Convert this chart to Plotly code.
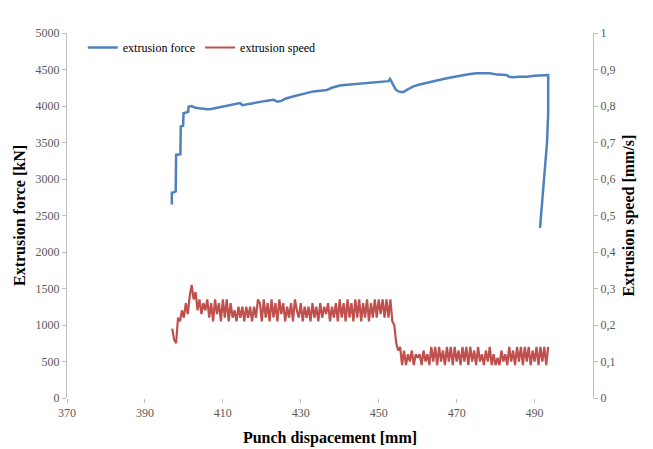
import numpy as np
import plotly.graph_objects as go

# Extrusion force (blue) — punch displacement [mm] and force [kN]
force_x = [396.9, 396.9, 397.1, 397.9, 398.0, 399.1, 399.2, 399.8, 399.9, 401.1, 401.2, 402.0,
           403.0, 404.0, 405.0, 406.0, 407.0, 408.0, 409.0, 410.0, 411.0, 412.0, 413.0, 414.4,
           415.0, 416.0, 417.0, 418.0, 419.6, 421.0, 423.0, 424.0, 425.0, 426.0, 428.0, 430.7,
           432.0, 433.2, 435.0, 436.7, 438.0, 440.0, 442.0, 445.2, 447.0, 449.0, 451.0, 452.5,
           452.9, 453.7, 454.3, 455.0, 456.3, 457.5, 458.9, 460.5, 462.3, 464.5, 466.6, 468.5,
           470.8, 473.0, 475.1, 478.5, 480.5, 482.8, 483.5, 484.5, 486.0, 487.9, 490.0, 492.0,
           493.5, 493.5, 493.2, 491.4]
force_y = [2650, 2810, 2810, 2830, 3330, 3340, 3720, 3730, 3900, 3920, 3990, 4000,
           3975, 3965, 3960, 3955, 3960, 3970, 3980, 3990, 4000, 4010, 4020, 4040,
           4010, 4020, 4040, 4050, 4060, 4070, 4085, 4060, 4070, 4100, 4130, 4165,
           4180, 4200, 4210, 4220, 4250, 4280, 4290, 4305, 4310, 4320, 4330, 4340,
           4370, 4290, 4230, 4200, 4190, 4230, 4270, 4295, 4320, 4345, 4370, 4390,
           4415, 4435, 4447, 4447, 4430, 4425, 4400, 4393, 4400, 4402, 4415, 4420,
           4425, 3900, 3500, 2330]

# Extrusion speed (red) — sampled every 0.5 mm from 397 to 493.5 mm
speed_x = np.arange(397.0, 493.75, 0.5)
speed_y = [
    0.19, 0.16, 0.15, 0.22, 0.21, 0.24, 0.22, 0.26, 0.23, 0.28,
    0.31, 0.27, 0.29, 0.24, 0.27, 0.23, 0.26, 0.24, 0.27, 0.22,
    0.26, 0.21, 0.27, 0.23, 0.26, 0.21, 0.27, 0.22, 0.27, 0.21,
    0.26, 0.22, 0.24, 0.21, 0.25, 0.22, 0.25, 0.21, 0.25, 0.22,
    0.25, 0.21, 0.25, 0.22, 0.27, 0.26, 0.21, 0.27, 0.22, 0.26,
    0.21, 0.27, 0.22, 0.26, 0.21, 0.27, 0.23, 0.26, 0.21, 0.25,
    0.22, 0.26, 0.21, 0.27, 0.24, 0.22, 0.26, 0.21, 0.25, 0.22,
    0.25, 0.21, 0.26, 0.22, 0.25, 0.21, 0.26, 0.22, 0.25, 0.23,
    0.26, 0.21, 0.25, 0.22, 0.26, 0.21, 0.27, 0.22, 0.26, 0.21,
    0.27, 0.22, 0.26, 0.21, 0.27, 0.22, 0.27, 0.21, 0.26, 0.22,
    0.27, 0.21, 0.26, 0.22, 0.27, 0.22, 0.27, 0.23, 0.27, 0.22,
    0.27, 0.22, 0.27, 0.21, 0.20, 0.15, 0.13, 0.14, 0.09, 0.13,
    0.09, 0.12, 0.10, 0.13, 0.09, 0.12, 0.11, 0.12, 0.09, 0.13,
    0.10, 0.12, 0.09, 0.14, 0.10, 0.14, 0.09, 0.14, 0.10, 0.13,
    0.09, 0.14, 0.10, 0.14, 0.09, 0.14, 0.10, 0.13, 0.09, 0.14,
    0.10, 0.14, 0.09, 0.14, 0.10, 0.13, 0.09, 0.14, 0.10, 0.12,
    0.09, 0.13, 0.10, 0.14, 0.09, 0.12, 0.09, 0.11, 0.09, 0.13,
    0.10, 0.12, 0.09, 0.14, 0.10, 0.13, 0.09, 0.14, 0.10, 0.14,
    0.09, 0.14, 0.10, 0.14, 0.09, 0.13, 0.10, 0.14, 0.09, 0.14,
    0.10, 0.14, 0.09, 0.14,
]

x_ticks = [370, 390, 410, 430, 450, 470, 490]

FONT = "Liberation Serif"
AXIS_GRAY = "#BFBFBF"
TICK_GRAY = "#595959"

fig = go.Figure()
fig.add_trace(go.Scatter(x=force_x, y=force_y, mode="lines", name="extrusion force",
                         line=dict(color="#4F81BD", width=2.5)))
fig.add_trace(go.Scatter(x=speed_x, y=speed_y, mode="lines", name="extrusion speed",
                         yaxis="y2", line=dict(color="#C0504D", width=2.2)))

fig.update_layout(
    width=653, height=449,
    margin=dict(l=59, r=68, t=25, b=59, autoexpand=False),
    paper_bgcolor="white", plot_bgcolor="white",
    separators=",.",
    font=dict(family=FONT, size=12, color=TICK_GRAY),
    showlegend=True,
    legend=dict(orientation="h", x=0.03, y=1.0, xanchor="left", yanchor="top",
                font=dict(family=FONT, size=12, color="#000000"),
                itemwidth=30, bgcolor="rgba(0,0,0,0)", tracegroupgap=0),
    xaxis=dict(range=[370, 505], tickmode="array", tickvals=x_ticks,
               showgrid=False, zeroline=False, showline=False, automargin=False,
               ticks="outside", ticklen=4, tickcolor=AXIS_GRAY,
               tickfont=dict(family=FONT, size=12, color=TICK_GRAY),
               title=dict(text="<b>Punch dispacement [mm]</b>", standoff=12,
                          font=dict(family=FONT, size=16, color="#000000"))),
    yaxis=dict(range=[0, 5000], dtick=500, showgrid=False, zeroline=False,
               showline=True, linecolor=AXIS_GRAY, linewidth=1, automargin=False,
               ticks="outside", ticklen=4, tickcolor=AXIS_GRAY,
               tickfont=dict(family=FONT, size=12, color=TICK_GRAY),
               title=dict(text="<b>Extrusion force [kN]</b>", standoff=5,
                          font=dict(family=FONT, size=16, color="#000000"))),
    yaxis2=dict(range=[0, 1], dtick=0.1, overlaying="y", side="right",
                showgrid=False, zeroline=False, automargin=False,
                showline=True, linecolor=AXIS_GRAY, linewidth=1,
                ticks="outside", ticklen=4, tickcolor=AXIS_GRAY,
                tickfont=dict(family=FONT, size=12, color=TICK_GRAY),
                title=dict(text="<b>Extrusion speed [mm/s]</b>", standoff=8,
                           font=dict(family=FONT, size=16, color="#000000"))),
)

fig.write_html("out.html")
